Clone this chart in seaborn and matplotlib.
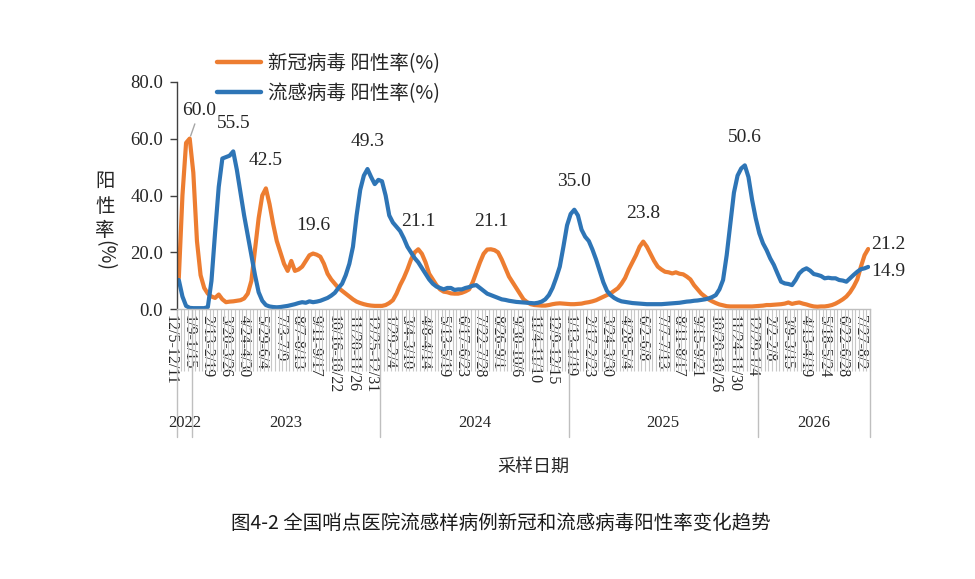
import numpy as np
import pandas as pd
import matplotlib
matplotlib.use("Agg")
import matplotlib.pyplot as plt
import matplotlib.transforms as mtransforms
from matplotlib.lines import Line2D
import seaborn as sns

# ---------------- data (weekly positivity rates, %) ----------------
covid = [
    11, 40, 58.5, 60.0, 48, 24, 12, 7.5, 5.5, 4.5,
    4, 5.2, 3.5, 2.5, 2.7, 2.8, 3, 3.2, 3.8, 5.5,
    10, 21, 32, 40, 42.5, 37, 30, 24, 20, 16,
    13.5, 17, 13.5, 14, 15, 17, 19, 19.6, 19.2, 18.5,
    16, 12.5, 10.5, 9, 7.5, 6.5, 5.5, 4.5, 3.5, 2.7,
    2.2, 1.8, 1.5, 1.3, 1.2, 1.2, 1.2, 1.5, 2.2, 3.2,
    5.5, 8.5, 11, 14, 17.5, 20, 21.1, 19.5, 16.5, 12.5,
    10.5, 8.5, 7, 6.2, 6, 5.6, 5.5, 5.5, 5.8, 6.3,
    7, 9.5, 13, 16.5, 19.5, 21, 21.1, 20.8, 20, 17.5,
    14.5, 11.5, 9.5, 7.5, 5.5, 3.5, 2.5, 1.8, 1.5, 1.4,
    1.3, 1.3, 1.5, 1.8, 2, 2.1, 2, 1.9, 1.8, 1.8,
    1.9, 2, 2.3, 2.5, 2.8, 3.2, 3.8, 4.4, 5, 5.6,
    6.5, 7.4, 9, 11, 14, 16.5, 19, 22, 23.8, 22,
    19.5, 17, 15, 14, 13.2, 13, 12.6, 13, 12.5, 12.3,
    11.5, 10.5, 8.5, 7, 5.5, 4.5, 3.5, 2.8, 2.2, 1.7,
    1.4, 1.1, 1.0, 1.0, 1.0, 1.0, 1.0, 1.0, 1.0, 1.1,
    1.2, 1.3, 1.5, 1.5, 1.6, 1.7, 1.8, 2.0, 2.4, 1.9,
    2.2, 2.4, 2.0, 1.7, 1.3, 1.0, 0.9, 1.0, 1.0, 1.2,
    1.5, 2.0, 2.7, 3.5, 4.5, 6.0, 8.0, 10.5, 15, 19,
    21.2,
]
flu = [
    10.3, 4.5, 1.2, 0.5, 0.4, 0.4, 0.4, 0.4, 0.8, 10,
    27, 43, 53, 53.5, 54, 55.5, 49, 41, 33, 26,
    19, 12, 6, 3, 1.5, 1.0, 0.8, 0.7, 0.8, 1.0,
    1.2, 1.5, 1.8, 2.2, 2.5, 2.3, 2.8, 2.5, 2.7, 3.0,
    3.5, 4.0, 4.8, 5.8, 7.5, 9, 12, 16, 22, 33,
    42, 47, 49.3, 46.5, 44, 45.5, 45, 40, 33, 30.5,
    29, 27.5, 25, 22, 20, 18, 16.5, 14.5, 12.5, 10.5,
    9, 8, 7.5, 7, 7.5, 7.5, 6.8, 7, 7, 7.5,
    7.8, 8.3, 8.5, 7.5, 6.5, 5.5, 5, 4.5, 4, 3.5,
    3.3, 3, 2.8, 2.6, 2.5, 2.4, 2.3, 2.2, 2.1, 2.3,
    2.7, 3.5, 5, 7.5, 11, 15, 22, 29.5, 33.5, 35.0,
    33, 28, 25.5, 24, 21, 17.5, 13.5, 9.5, 6.5, 5,
    4, 3.3, 2.8, 2.6, 2.4, 2.2, 2.1, 2, 1.9, 1.8,
    1.8, 1.8, 1.8, 1.8, 1.9, 2, 2.1, 2.2, 2.3, 2.5,
    2.7, 2.8, 3, 3.1, 3.3, 3.5, 3.8, 4.3, 5, 7,
    10.3, 19, 30, 41, 47, 49.5, 50.6, 46.5, 38.5, 32,
    26.7, 23.2, 20.8, 17.9, 15.6, 12.6, 9.7, 9.1, 8.9, 8.5,
    10.3, 12.6, 13.8, 14.4, 13.6, 12.4, 12.1, 11.7, 10.9, 11.1,
    10.9, 10.9, 10.3, 10.1, 9.7, 10.9, 12.1, 13.2, 14.1, 14.4,
    14.9,
]
tick_labels = [
    "12/5-12/11", "1/9-1/15", "2/13-2/19", "3/20-3/26", "4/24-4/30", "5/29-6/4",
    "7/3-7/9", "8/7-8/13", "9/11-9/17", "10/16-10/22", "11/20-11/26", "12/25-12/31",
    "1/29-2/4", "3/4-3/10", "4/8-4/14", "5/13-5/19", "6/17-6/23", "7/22-7/28",
    "8/26-9/1", "9/30-10/6", "11/4-11/10", "12/9-12/15", "1/13-1/19", "2/17-2/23",
    "3/24-3/30", "4/28-5/4", "6/2-6/8", "7/7-7/13", "8/11-8/17", "9/15-9/21",
    "10/20-10/26", "11/24-11/30", "12/29-1/4", "2/2-2/8", "3/9-3/15", "4/13-4/19",
    "5/18-5/24", "6/22-6/28", "7/27-8/2",
]
years = ["2022", "2023", "2024", "2025", "2026"]
year_weeks = [4, 52, 52, 52, 31]
covid_name = "新冠病毒 阳性率(%)"
flu_name = "流感病毒 阳性率(%)"
covid_peaks = [3, 24, 37, 66, 86, 128]
flu_peaks = [15, 52, 109, 156]

assert len(covid) == len(flu) == sum(year_weeks)

# ---------------- style ----------------
sns.set_theme(style="white")
plt.rcParams['font.family'] = ['Liberation Serif', 'Noto Sans CJK SC', 'DejaVu Sans']
plt.rcParams['axes.unicode_minus'] = False
CJK = ['Noto Sans CJK SC', 'DejaVu Sans']
TXT = '#262626'

n = len(covid)
idx = np.arange(n)
df = pd.DataFrame({
    'week': np.concatenate([idx, idx]),
    'rate': covid + flu,
    'series': [covid_name] * n + [flu_name] * n,
})

W, H = 975, 579
fig = plt.figure(figsize=(W / 100, H / 100), dpi=100)
fig.patch.set_facecolor('white')


def fx(px):
    return px / W


def fy(py):
    return 1 - py / H


ax = fig.add_axes([fx(177), fy(309.3), fx(870) - fx(177), fy(81.7) - fy(309.3)])
palette = {covid_name: '#ED7D31', flu_name: '#2E75B6'}
sns.lineplot(data=df, x='week', y='rate', hue='series',
             hue_order=[covid_name, flu_name], palette=palette,
             linewidth=3.0, ax=ax, legend=True)

ax.set_xlim(-0.5, n - 0.5)
ax.set_ylim(0, 80)
yt = np.arange(0, 81, 20)
ax.set_yticks(yt)
ax.set_yticklabels([f"{v:.1f}" for v in yt], fontsize=13.5, color=TXT)
ax.tick_params(axis='y', which='major', direction='out', length=5, width=1,
               color='#404040', pad=5, left=True)
ax.set_ylabel("")

ax.set_xticks(idx[::5])
ax.set_xticklabels(tick_labels, rotation=270, fontsize=11.5, color=TXT)
ax.set_xticks(np.arange(-0.5, n, 1), minor=True)
ax.tick_params(axis='x', which='major', length=0, pad=4, bottom=True)
ax.tick_params(axis='x', which='minor', length=44.6, width=0.8,
               color='#C8C8C8', direction='out', bottom=True)
shift = mtransforms.ScaledTranslation(-0.08, 0, fig.dpi_scale_trans)
for lab in ax.get_xticklabels():
    lab.set_transform(lab.get_transform() + shift)

for s in ['top', 'right']:
    ax.spines[s].set_visible(False)
ax.spines['left'].set_color('#404040')
ax.spines['left'].set_linewidth(1.0)
ax.spines['bottom'].set_color('#BFBFBF')
ax.spines['bottom'].set_linewidth(1.0)
ax.grid(False)

# year group separators and labels
trans = mtransforms.blended_transform_factory(ax.transData, ax.transAxes)
bounds = np.concatenate([[0], np.cumsum(year_weeks)]) - 0.5
for b in bounds:
    ax.add_artist(Line2D([b, b], [0, -0.561], transform=trans, color='#BFBFBF',
                         lw=1.0, clip_on=False))
centers = (bounds[:-1] + bounds[1:]) / 2
for c, yname in zip(centers, years):
    ax.text(c, -0.50, yname, transform=trans, ha='center', va='center',
            fontsize=12, color=TXT)

# peak labels
for i in covid_peaks:
    if i == covid_peaks[0]:
        ax.annotate(f"{covid[i]:.1f}", xy=(i, covid[i]), xytext=(7, 20),
                    textcoords='offset points', ha='center', va='center',
                    fontsize=14, color=TXT,
                    arrowprops=dict(arrowstyle='-', color='#A6A6A6', lw=1,
                                    shrinkA=1, shrinkB=2))
    else:
        ax.annotate(f"{covid[i]:.1f}", xy=(i, covid[i]), xytext=(0, 20),
                    textcoords='offset points', ha='center', va='center',
                    fontsize=14, color=TXT)
for i in flu_peaks:
    ax.annotate(f"{flu[i]:.1f}", xy=(i, flu[i]), xytext=(0, 20),
                textcoords='offset points', ha='center', va='center',
                fontsize=14, color=TXT)
ax.annotate(f"{covid[-1]:.1f}", xy=(n - 1, covid[-1]), xytext=(2, 3),
            textcoords='offset points', ha='left', va='center', fontsize=14, color=TXT)
ax.annotate(f"{flu[-1]:.1f}", xy=(n - 1, flu[-1]), xytext=(2, -3),
            textcoords='offset points', ha='left', va='center', fontsize=14, color=TXT)

# legend
handles, labels = ax.get_legend_handles_labels()
leg = ax.legend(handles, labels, loc='upper left',
                bbox_to_anchor=(fx(217), fy(53)), bbox_transform=fig.transFigure,
                frameon=False, prop={'family': CJK, 'size': 14},
                handlelength=2.25, handletextpad=0.35, labelspacing=0.45,
                borderpad=0, borderaxespad=0)
for t in leg.get_texts():
    t.set_color(TXT)
for h in leg.get_lines():
    h.set_linewidth(3.2)

# axis titles
fig.text(fx(105), fy(206), "阳\n性\n率", ha='center', va='center',
         family=CJK, fontsize=14, color=TXT, linespacing=1.2)
fig.text(fx(105), fy(255), "(%)", ha='center', va='center', rotation=270,
         family=CJK, fontsize=14, color=TXT)
ax.set_xlabel("采样日期", family=CJK, fontsize=13, color=TXT)
ax.xaxis.set_label_coords(0.514, -0.693)
ax.xaxis.label.set_va('center')

fig.text(fx(501), fy(523), "图4-2 全国哨点医院流感样病例新冠和流感病毒阳性率变化趋势",
         ha='center', va='center', family=CJK, fontsize=14, color='#1a1a1a')

fig.savefig('out.png', dpi=100, facecolor='white')
